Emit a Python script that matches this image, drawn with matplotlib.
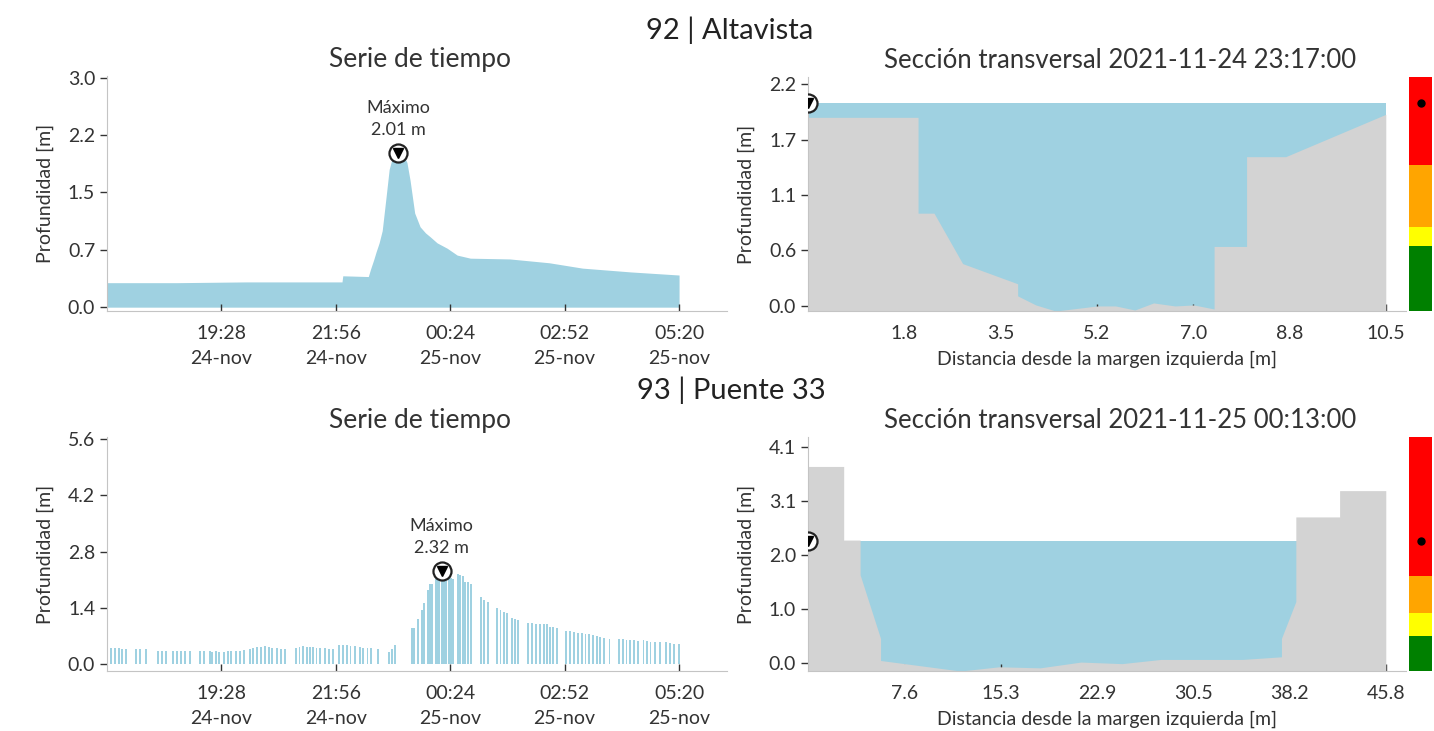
import numpy as np
import pandas as pd
import matplotlib
matplotlib.use('Agg')
import matplotlib.pyplot as plt

plt.rcParams['font.family'] = ['Lato', 'DejaVu Sans']

WATER = '#9fd1e1'
GROUND = '#d3d3d3'
SPINE = '#c4c4c4'
TXT = '#333333'

# -- station 92 | Altavista -- #
t1 = ['17:00', '18:30', '20:00', '21:30', '22:04', '22:05', '22:38', '22:41', '22:45',
      '22:48', '22:52', '22:56', '23:01', '23:05', '23:09', '23:12', '23:17', '23:23',
      '23:28', '23:32', '23:38', '23:45', '23:52', '23:58', '00:07', '00:20', '00:33',
      '00:50', '01:41', '02:32', '03:15', '04:18', '05:20']
d1 = [0.32, 0.32, 0.33, 0.33, 0.33, 0.41, 0.40, 0.50, 0.62,
      0.72, 0.84, 1.00, 1.44, 1.80, 1.95, 2.00, 2.01, 2.00,
      1.89, 1.66, 1.23, 1.05, 0.97, 0.92, 0.84, 0.77, 0.68,
      0.64, 0.63, 0.58, 0.51, 0.46, 0.42]

cs1_x = [0, 2.00, 2.00, 2.29, 2.81, 3.81, 3.81, 4.14, 4.50, 5.26, 5.59, 5.94, 6.28,
         6.67, 7.01, 7.38, 7.38, 7.97, 7.97, 8.68, 10.5]
cs1_z = [1.87, 1.87, 0.92, 0.92, 0.42, 0.22, 0.10, 0.01, -0.05, 0.00, 0.00, -0.04, 0.03,
         0.00, 0.01, -0.03, 0.59, 0.59, 1.48, 1.48, 1.90]
cs1_title = 'Sección transversal 2021-11-24 23:17:00'
alerts1 = [0.59, 0.78, 1.40]

# -- station 93 | Puente 33 -- #
t2 = ['17:05', '17:10', '17:15', '17:20', '17:25', '17:38', '17:43', '17:50',
      '18:06', '18:11', '18:16', '18:25', '18:30', '18:36', '18:41', '18:47',
      '19:00', '19:05', '19:13', '19:16', '19:21', '19:25',
      '19:31', '19:36', '19:41', '19:47', '19:52', '19:57',
      '20:05', '20:09', '20:14', '20:19', '20:24', '20:29', '20:34', '20:40', '20:45', '20:50',
      '21:04', '21:09', '21:14', '21:19', '21:23', '21:26', '21:31', '21:36', '21:42', '21:47', '21:52',
      '22:00', '22:05', '22:10', '22:15', '22:21', '22:27', '22:31', '22:37', '22:42', '22:51',
      '23:05', '23:09', '23:13', '23:35', '23:37', '23:42', '23:47', '23:50', '23:55', '23:58',
      '00:01', '00:05', '00:08', '00:10', '00:13', '00:16', '00:19', '00:22', '00:25', '00:28',
      '00:34', '00:37', '00:40', '00:43', '00:47', '00:51', '01:04', '01:08', '01:13',
      '01:25', '01:29', '01:33', '01:38', '01:44', '01:48', '01:52',
      '02:05', '02:10', '02:15', '02:20', '02:25', '02:29', '02:33', '02:37', '02:42',
      '02:54', '02:59', '03:04', '03:09', '03:14', '03:19', '03:24', '03:29',
      '03:34', '03:38', '03:43', '03:50', '04:02', '04:07', '04:12', '04:17', '04:22', '04:27',
      '04:34', '04:38', '04:43', '04:49', '04:55', '05:03', '05:08', '05:13', '05:20']
d2 = [0.40, 0.39, 0.39, 0.38, 0.38, 0.36, 0.37, 0.36,
      0.32, 0.32, 0.32, 0.32, 0.32, 0.33, 0.32, 0.31,
      0.32, 0.31, 0.31, 0.30, 0.31, 0.30,
      0.30, 0.31, 0.31, 0.32, 0.33, 0.35,
      0.38, 0.40, 0.42, 0.43, 0.44, 0.42, 0.40, 0.39, 0.38, 0.38,
      0.40, 0.43, 0.44, 0.43, 0.42, 0.41, 0.40, 0.40, 0.39, 0.38, 0.38,
      0.46, 0.47, 0.46, 0.45, 0.44, 0.43, 0.40, 0.40, 0.39, 0.36,
      0.30, 0.38, 0.46, 0.90, 0.90, 1.13, 1.33, 1.52, 1.85, 2.00,
      2.00, 2.12, 2.15, 2.15, 2.32, 2.18, 2.15, 2.15, 2.14, 2.12,
      2.24, 2.22, 2.20, 2.05, 2.03, 2.00, 1.66, 1.60, 1.55,
      1.38, 1.34, 1.30, 1.26, 1.14, 1.11, 1.09,
      1.01, 1.01, 1.00, 1.00, 0.99, 0.99, 0.92, 0.91, 0.89,
      0.82, 0.81, 0.80, 0.78, 0.77, 0.75, 0.74, 0.72,
      0.69, 0.67, 0.64, 0.62, 0.62, 0.61, 0.60, 0.60, 0.59, 0.58,
      0.59, 0.57, 0.55, 0.54, 0.54, 0.54, 0.51, 0.50, 0.49]

cs2_x = [0, 2.83, 2.83, 4.13, 4.13, 5.75, 5.75, 12.08, 15.16, 18.40, 21.64, 24.89,
         27.97, 34.45, 37.53, 37.53, 38.67, 38.67, 42.14, 42.14, 45.8]
cs2_z = [3.73, 3.73, 2.33, 2.33, 1.67, 0.46, 0.04, -0.16, -0.08, -0.10, 0.01, -0.02,
         0.06, 0.06, 0.11, 0.46, 1.16, 2.77, 2.77, 3.27, 3.27]
cs2_title = 'Sección transversal 2021-11-25 00:13:00'
alerts2 = [0.50, 0.94, 1.65]

# axis ticks
ts_ticks = ['19:28', '21:56', '00:24', '02:52', '05:20']
ts_xlim = ['17:00', '06:22']
ts1_yticks = [0.0, 0.75, 1.5, 2.25, 3.0]
ts1_ylabels = ['0.0', '0.7', '1.5', '2.2', '3.0']
ts2_yticks = [0.0, 1.4, 2.8, 4.2, 5.6]
ts2_ylabels = ['0.0', '1.4', '2.8', '4.2', '5.6']
cs1_yticks = [0.0, 0.55, 1.1, 1.65, 2.2]
cs1_ylabels = ['0.0', '0.6', '1.1', '1.7', '2.2']
cs2_yticks = [0.0, 1.025, 2.05, 3.075, 4.1]
cs2_ylabels = ['0.0', '1.0', '2.0', '3.1', '4.1']
cs1_xlabels = ['1.8', '3.5', '5.2', '7.0', '8.8', '10.5']
cs2_xlabels = ['7.6', '15.3', '22.9', '30.5', '38.2', '45.8']


def to_time(hhmm):
    day = '2021-11-24' if int(hhmm[:2]) >= 12 else '2021-11-25'
    return pd.Timestamp(day + ' ' + hhmm)


def style(ax):
    for s in ['top', 'right']:
        ax.spines[s].set_visible(False)
    for s in ['left', 'bottom']:
        ax.spines[s].set_color(SPINE)
    ax.tick_params(labelsize=14, colors=TXT, length=5, width=1)
    ax.tick_params(axis='x', direction='in', pad=10)


def max_marker(ax, x, y, clip=True):
    ax.plot([x], [y], 'o', ms=13, mfc='white', mec='#222222', mew=1.6, zorder=5, clip_on=clip)
    ax.plot([x], [y], 'v', ms=7, color='black', zorder=6, clip_on=clip)


def time_series(ax, times, depth, bars, yticks, ylabels, ylim):
    tt = [to_time(t) for t in times]
    if bars:
        ax.bar(tt, depth, width=2.5 / 1440, color=WATER, lw=0)
    else:
        ax.fill_between(tt, 0, depth, color=WATER, lw=0)
    i = int(np.argmax(depth))
    max_marker(ax, tt[i], depth[i], clip=False)
    ax.annotate('Máximo\n%.2f m' % depth[i], (tt[i], depth[i]), xytext=(0, 11),
                textcoords='offset points', ha='center', va='bottom', fontsize=13,
                color=TXT, linespacing=1.45)
    ticks = [to_time(t) for t in ts_ticks]
    ax.set_xticks(ticks)
    ax.set_xticklabels([t.strftime('%H:%M') + '\n' + t.strftime('%d') + '-nov' for t in ticks],
                       linespacing=1.6)
    ax.set_xlim(to_time(ts_xlim[0]), to_time(ts_xlim[1]))
    ax.set_yticks(yticks)
    ax.set_yticklabels(ylabels)
    ax.set_ylim(ylim)
    ax.set_ylabel('Profundidad [m]', fontsize=14, color=TXT, labelpad=10)
    style(ax)


def cross_section(ax, axc, xs, zs, level, xlabels, yticks, ylabels, ylim, alerts):
    xmax = xs[-1]
    ax.fill_between([xs[0], xmax], ylim[0] - 1, level, color=WATER, lw=0, zorder=1)
    ax.fill_between(xs, ylim[0] - 1, zs, color=GROUND, lw=0, zorder=2)
    max_marker(ax, 0, level, clip=True)
    ax.set_xlim(0, xmax * 1.035)
    ax.set_ylim(ylim)
    ax.set_xticks(np.linspace(0, xmax, 7)[1:])
    ax.set_xticklabels(xlabels)
    ax.set_yticks(yticks)
    ax.set_yticklabels(ylabels)
    ax.set_ylabel('Profundidad [m]', fontsize=14, color=TXT, labelpad=10)
    ax.set_xlabel('Distancia desde la margen izquierda [m]', fontsize=14, color=TXT, labelpad=6)
    style(ax)
    bounds = [ylim[0]] + alerts + [ylim[1]]
    for lo, hi, c in zip(bounds[:-1], bounds[1:], ['green', 'yellow', 'orange', 'red']):
        axc.axhspan(lo, hi, color=c, lw=0)
    axc.plot([0.5], [level], 'o', color='black', ms=5)
    axc.set_xlim(0, 1)
    axc.set_ylim(ylim)
    axc.axis('off')


fig = plt.figure(figsize=(14.34, 7.31), dpi=100)
W, H = 1434, 731


def box(x0, y0, x1, y1):
    return [x0 / W, 1 - y1 / H, (x1 - x0) / W, (y1 - y0) / H]


ax1 = fig.add_axes(box(107, 76, 727, 311))
ax2 = fig.add_axes(box(808, 77, 1406, 311))
axc1 = fig.add_axes(box(1409, 77, 1432, 311))
ax3 = fig.add_axes(box(107, 437, 727, 671))
ax4 = fig.add_axes(box(808, 437, 1406, 671))
axc2 = fig.add_axes(box(1409, 437, 1432, 671))

time_series(ax1, t1, d1, False, ts1_yticks, ts1_ylabels, (-0.05, 3.02))
time_series(ax3, t2, d2, True, ts2_yticks, ts2_ylabels, (-0.18, 5.66))
cross_section(ax2, axc1, cs1_x, cs1_z, max(d1), cs1_xlabels, cs1_yticks, cs1_ylabels,
              (-0.05, 2.27), alerts1)
cross_section(ax4, axc2, cs2_x, cs2_z, max(d2), cs2_xlabels, cs2_yticks, cs2_ylabels,
              (-0.16, 4.29), alerts2)

fig.text(730 / W, 1 - 30 / H, '92 | Altavista', ha='center', va='center', fontsize=21, color='#222222')
fig.text(731 / W, 1 - 390 / H, '93 | Puente 33', ha='center', va='center', fontsize=21, color='#222222')
fig.text(420 / W, 1 - 60 / H, 'Serie de tiempo', ha='center', va='center', fontsize=19, color=TXT)
fig.text(420 / W, 1 - 420 / H, 'Serie de tiempo', ha='center', va='center', fontsize=19, color=TXT)
fig.text(1120 / W, 1 - 60 / H, cs1_title, ha='center', va='center', fontsize=18.5, color=TXT)
fig.text(1120 / W, 1 - 420 / H, cs2_title, ha='center', va='center', fontsize=18.5, color=TXT)

fig.savefig('out.png', dpi=100, facecolor='white')
